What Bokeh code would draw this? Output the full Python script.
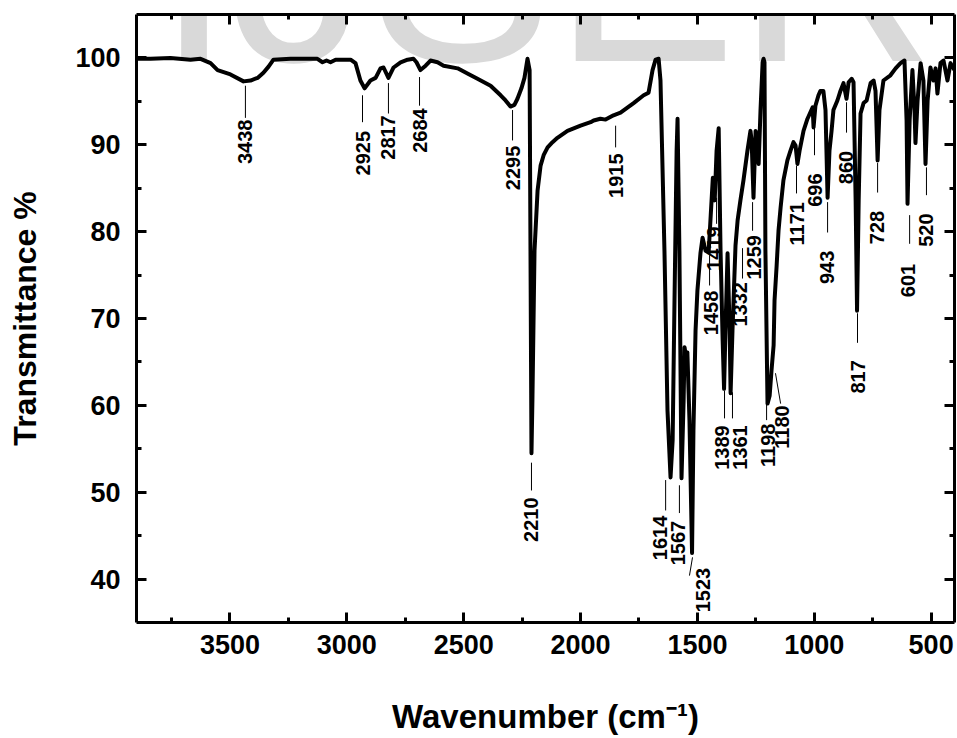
import math
from bokeh.plotting import figure
from bokeh.models import Range1d, LinearAxis, FixedTicker, Label, ColumnDataSource
from bokeh.embed import file_html
from bokeh.resources import INLINE
from bokeh.core.properties import value

# ---------------- data ----------------
wavenumber = [3900, 3840, 3755, 3669, 3626, 3583, 3553, 3498, 3442, 3412, 3382, 3357, 3335, 3314,
              3241, 3126, 3104, 3087, 3070, 3048, 2984, 2963, 2942, 2924, 2899, 2877, 2856, 2843,
              2822, 2800, 2770, 2740, 2715, 2702, 2685, 2663, 2642, 2612, 2586, 2526, 2484, 2441,
              2385, 2342, 2321, 2300, 2283, 2270, 2253, 2240, 2227, 2218, 2210, 2206, 2197, 2184,
              2171, 2158, 2141, 2120, 2099, 2056, 2000, 1957, 1944, 1915, 1893, 1859, 1829, 1773,
              1730, 1709, 1692, 1679, 1666, 1658, 1641, 1628, 1615, 1606, 1598, 1589, 1585, 1577,
              1568, 1559, 1555, 1547, 1543, 1534, 1523, 1517, 1508, 1500, 1487, 1478, 1465, 1452,
              1443, 1434, 1426, 1418, 1409, 1401, 1392, 1386, 1380, 1371, 1362, 1358, 1350, 1337,
              1328, 1316, 1303, 1286, 1273, 1268, 1260, 1251, 1243, 1238, 1230, 1221, 1217, 1213,
              1209, 1200, 1191, 1183, 1174, 1170, 1161, 1153, 1144, 1132, 1115, 1102, 1089, 1080,
              1072, 1063, 1046, 1029, 1007, 1003, 995, 982, 974, 961, 952, 943, 935, 926, 918, 901,
              888, 875, 862, 853, 840, 832, 823, 817, 810, 802, 789, 776, 759, 746, 738, 729, 721,
              704, 674, 652, 631, 614, 605, 601, 592, 580, 571, 567, 558, 545, 533, 524, 515, 503,
              490, 481, 473, 460, 447, 430, 417, 400]
transmittance = [99.9, 99.9, 100.0, 99.8, 99.9, 99.4, 98.6, 98.1, 97.3, 97.4, 97.7, 98.3, 99.0, 99.8,
                 99.9, 99.9, 99.5, 99.7, 99.5, 99.8, 99.8, 99.4, 97.4, 96.5, 97.4, 97.7, 98.8, 98.9,
                 97.7, 98.9, 99.5, 99.8, 99.9, 99.5, 98.6, 99.1, 99.7, 99.5, 99.1, 98.8, 98.2, 97.6,
                 96.8, 95.7, 95.1, 94.4, 94.6, 95.3, 96.5, 97.7, 99.9, 98.6, 54.5, 60.6, 77.8, 84.7,
                 87.6, 88.8, 89.7, 90.3, 90.8, 91.6, 92.2, 92.6, 92.8, 93.0, 92.9, 93.4, 93.7, 94.8,
                 95.7, 96.0, 98.6, 99.8, 99.9, 97.4, 77.8, 59.4, 51.7, 56.0, 72.1, 89.3, 93.0, 77.8,
                 51.6, 60.6, 66.7, 65.2, 66.1, 58.3, 43.0, 57.1, 68.6, 73.2, 77.5, 79.3, 77.8, 77.6,
                 81.9, 86.2, 83.6, 89.3, 91.9, 77.8, 67.5, 61.9, 68.6, 77.5, 68.6, 61.4, 68.6, 78.4,
                 81.3, 83.6, 85.9, 89.3, 91.6, 90.5, 83.9, 91.6, 90.5, 87.8, 94.0, 99.5, 99.9, 99.5,
                 77.8, 60.2, 61.1, 64.0, 66.9, 72.1, 76.1, 80.1, 82.8, 85.9, 88.2, 89.3, 90.3, 89.9,
                 87.8, 89.3, 91.6, 93.0, 94.3, 92.0, 94.5, 95.7, 96.2, 96.2, 94.0, 83.9, 89.3, 91.6,
                 94.0, 95.1, 96.2, 97.1, 95.3, 97.2, 97.6, 97.2, 83.6, 70.9, 83.6, 93.6, 94.8, 95.1,
                 97.1, 97.4, 96.2, 88.2, 94.0, 97.4, 98.0, 98.8, 99.4, 99.7, 92.8, 83.2, 92.8, 98.6,
                 94.0, 90.2, 95.1, 99.4, 97.4, 87.8, 95.1, 98.9, 97.4, 98.8, 95.9, 99.4, 99.7, 97.4,
                 99.4, 98.6]

peak_labels = ["3438", "2925", "2817", "2684", "2295", "2210", "1915", "1614", "1567", "1523",
               "1458", "1419", "1389", "1361", "1332", "1259", "1198", "1180", "1171", "696",
               "943", "860", "817", "728", "601", "520"]
line_x_top = [3434, 2933, 2822, 2689, 2291, 2210, 1850, 1636, 1577, 1521, 1448, 1418, 1384, 1350,
              1307, 1264, 1204, 1166, 1076, 999, 943, 862, 815, 729, 592, 520]
line_y_top = [96.8, 95.7, 97.1, 97.8, 94.0, 53.4, 92.2, 51.4, 50.8, 42.5, 77.3, 83.9, 61.7, 61.5,
              78.1, 83.4, 60.2, 63.7, 87.6, 91.9, 83.4, 94.9, 70.6, 87.9, 81.9, 87.4]
line_x_bot = [3434, 2933, 2822, 2689, 2291, 2210, 1850, 1636, 1577, 1534, 1448, 1418, 1384, 1350,
              1307, 1264, 1204, 1144, 1076, 999, 943, 862, 815, 729, 592, 520]
line_y_bot = [93.1, 92.6, 93.6, 94.5, 90.5, 50.2, 89.7, 47.9, 47.6, 40.4, 73.8, 80.9, 58.5, 58.5,
              74.6, 80.1, 58.3, 60.2, 84.4, 88.8, 79.9, 91.4, 67.2, 84.5, 78.6, 84.2]
label_x = [3434, 2933, 2822, 2689, 2291, 2210, 1850, 1662, 1585, 1474, 1440, 1427, 1393, 1316,
           1316, 1260, 1200, 1136, 1076, 999, 947, 866, 815, 733, 597, 524]
label_y = [92.9, 91.6, 93.4, 94.2, 89.9, 49.4, 89.0, 47.3, 46.7, 41.3, 73.2, 80.6, 57.7, 57.7,
           74.2, 79.6, 57.9, 60.0, 83.4, 86.7, 77.8, 89.3, 65.2, 82.4, 76.3, 82.1]

x_major = [3500, 3000, 2500, 2000, 1500, 1000, 500]
x_minor = [3750, 3250, 2750, 2250, 1750, 1250, 750]
y_major = [40, 50, 60, 70, 80, 90, 100]
y_minor = [45, 55, 65, 75, 85, 95]

FONT = "Liberation Sans"

p = figure(width=957, height=738, output_backend="svg", toolbar_location=None,
           x_range=Range1d(3900, 400), y_range=Range1d(35, 105),
           min_border_left=136, min_border_right=3, min_border_top=14, min_border_bottom=116)
p.outline_line_color = None
p.xgrid.visible = False
p.ygrid.visible = False
p.background_fill_color = "white"
p.border_fill_color = "white"


def style_axis(ax, ticks, minor, labels=True):
    ax.ticker = FixedTicker(ticks=ticks, minor_ticks=minor)
    ax.axis_line_width = 3
    ax.axis_line_color = "black"
    ax.major_tick_line_width = 3
    ax.minor_tick_line_width = 3
    ax.major_tick_line_cap = "butt"
    ax.minor_tick_line_cap = "butt"
    ax.major_tick_in = 10
    ax.major_tick_out = 0
    ax.minor_tick_in = 5
    ax.minor_tick_out = 0
    ax.major_label_text_font = FONT
    ax.major_label_text_font_style = "bold"
    ax.major_label_text_color = "black"
    if labels:
        ax.major_label_text_font_size = "27px"
    else:
        ax.major_label_text_font_size = "0px"
        ax.major_label_standoff = 0


style_axis(p.xaxis[0], x_major, x_minor)
p.xaxis[0].major_label_standoff = 12
p.xaxis[0].axis_label = "Wavenumber (cm\u207b\u00b9)"
p.xaxis[0].axis_label_text_font = FONT
p.xaxis[0].axis_label_text_font_style = "bold"
p.xaxis[0].axis_label_text_font_size = "33px"
p.xaxis[0].axis_label_text_color = "black"
p.xaxis[0].axis_label_standoff = 41

style_axis(p.yaxis[0], y_major, y_minor)
p.yaxis[0].major_label_standoff = 16
p.yaxis[0].axis_label = "Transmittance %"
p.yaxis[0].axis_label_text_font = FONT
p.yaxis[0].axis_label_text_font_style = "bold"
p.yaxis[0].axis_label_text_font_size = "32px"
p.yaxis[0].axis_label_text_color = "black"
p.yaxis[0].axis_label_standoff = 29

top_ax = LinearAxis()
style_axis(top_ax, x_major, x_minor, labels=False)
p.add_layout(top_ax, "above")
right_ax = LinearAxis()
style_axis(right_ax, y_major, y_minor, labels=False)
p.add_layout(right_ax, "right")

# watermark
p.add_layout(Label(x=409, y=657, x_units="screen", y_units="screen", text="IJSER",
                   text_font=FONT, text_font_size="275px", text_color="#d9d9d9",
                   text_align="center", text_baseline="middle", level="underlay"))

# peak annotations
ann = ColumnDataSource(dict(x0=line_x_top, y0=line_y_top, x1=line_x_bot, y1=line_y_bot,
                            tx=label_x, ty=label_y, text=peak_labels))
p.segment(x0="x0", y0="y0", x1="x1", y1="y1", source=ann, line_color="black", line_width=1)
p.text(x="tx", y="ty", text="text", source=ann, angle=math.pi / 2, text_align="right",
       text_baseline="middle", text_font=value(FONT), text_font_style="bold",
       text_font_size="20px", text_color="black")

# spectrum
p.line(wavenumber, transmittance, line_color="black", line_width=4, line_join="round")

open("out.html", "w").write(file_html(p, INLINE))
